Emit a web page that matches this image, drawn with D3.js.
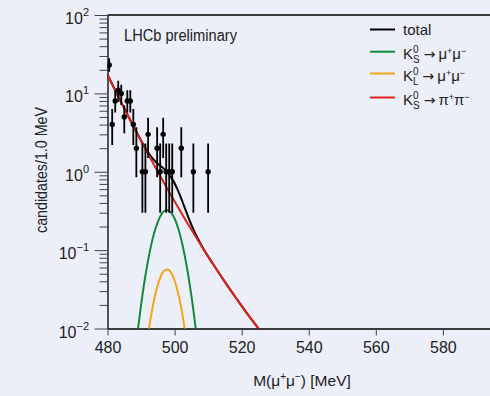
<!DOCTYPE html>
<html>
<head>
<meta charset="utf-8">
<script src="https://cdn.jsdelivr.net/npm/d3@7"></script>
<style>
  body { margin: 0; background: #eceef8; overflow: hidden; }
  svg { display: block; font-family: "Liberation Sans", Arial, sans-serif; }
</style>
</head>
<body>
<svg id="chart" width="490" height="396"></svg>
<script>
// binned data (candidates per bin)
const binMass = [480.5, 481.4, 482.3, 483.2, 484.1, 485.0, 485.9, 486.8, 487.7, 488.6,
  490.4, 491.3, 492.1, 494.8, 495.7, 496.6, 497.5, 498.4, 499.3, 502.0, 505.6, 510.0];
const counts = [23, 4, 8, 11, 10, 5, 8, 8, 4, 2, 1, 1, 3, 2, 1, 3, 1, 1, 1, 2, 1, 1];
const errLow = [18.9, 2.2, 5.7, 7.8, 7.1, 3.1, 5.7, 5.7, 2.2, 0.85, 0.3, 0.3, 1.5, 0.85, 0.3, 1.5, 0.3, 0.3, 0.3, 0.85, 0.3, 0.3];
const errHigh = [28.1, 6.3, 11.0, 14.5, 12.9, 7.0, 11.0, 11.0, 6.3, 3.7, 2.3, 2.3, 4.9, 3.7, 2.3, 4.9, 2.3, 2.3, 2.3, 3.7, 2.3, 2.3];

// fit components on a 1 MeV grid
const curveMass = d3.range(480, 527);
const pipiBkg = [17.4, 14.2, 11.6, 9.53, 7.83, 6.44, 5.31, 4.38, 3.62, 3.00,
  2.49, 2.07, 1.72, 1.43, 1.196, 1.00, 0.837, 0.703, 0.590, 0.497,
  0.419, 0.354, 0.299, 0.253, 0.215, 0.183, 0.156, 0.133, 0.113, 0.097,
  0.0831, 0.0713, 0.0613, 0.0528, 0.0455, 0.0393, 0.0340, 0.0295, 0.0256, 0.0223,
  0.0194, 0.0169, 0.0148, 0.0130, 0.0114, 0.0100, 0.0088];
const ksMass = d3.range(488, 509);
const ksMuMu = [0.0039, 0.0092, 0.0199, 0.0392, 0.0703, 0.115, 0.170, 0.230, 0.283, 0.317,
  0.323, 0.299, 0.253, 0.194, 0.136, 0.0864, 0.0501, 0.0264, 0.0127, 0.0055, 0.0022];
const klMass = d3.range(491, 506);
const klMuMu = [0.0036, 0.0077, 0.0146, 0.0245, 0.0362, 0.0475, 0.055, 0.0564, 0.0511, 0.041,
  0.0291, 0.0182, 0.0101, 0.0050, 0.0022];

const xTicks = [480, 500, 520, 540, 560, 580];
const yDecades = [-2, -1, 0, 1, 2];

const svg = d3.select('#chart');
const plotLeft = 107.5, plotTop = 15, plotBottom = 328.5;

const x = d3.scaleLinear().domain([480, 600]).range([plotLeft, plotLeft + 120 * 3.354]);
const y = d3.scaleLog().domain([0.01, 100]).range([plotBottom, plotTop]);

svg.append('defs').append('clipPath').attr('id', 'plotClip')
  .append('rect').attr('x', plotLeft).attr('y', plotTop)
  .attr('width', 490 - plotLeft).attr('height', plotBottom - plotTop);

// frame top
svg.append('line').attr('x1', plotLeft).attr('x2', 490).attr('y1', plotTop).attr('y2', plotTop)
  .attr('stroke', '#000').attr('stroke-width', 1.3);

// x axis
const xAxis = svg.append('g').attr('transform', `translate(0,${plotBottom})`)
  .call(d3.axisBottom(x).tickValues(xTicks).tickSize(7).tickSizeOuter(0).tickPadding(6));
xAxis.select('.domain').attr('stroke-width', 1.3);
xAxis.selectAll('.tick line').attr('stroke', '#444');
xAxis.selectAll('.tick text').attr('font-size', 16).attr('font-family', null).attr('fill', '#222');

// y axis: minor then major ticks
const minorVals = [];
yDecades.slice(0, -1).forEach(e => { for (let k = 2; k <= 9; k++) minorVals.push(k * Math.pow(10, e)); });
const yMinor = svg.append('g').attr('transform', `translate(${plotLeft},0)`)
  .call(d3.axisLeft(y).tickValues(minorVals).tickSize(8).tickSizeOuter(0).tickFormat(''));
yMinor.select('.domain').remove();
yMinor.selectAll('.tick line').attr('stroke', '#444');

const yAxis = svg.append('g').attr('transform', `translate(${plotLeft},0)`)
  .call(d3.axisLeft(y).tickValues(yDecades.map(e => Math.pow(10, e))).tickSize(13).tickSizeOuter(0).tickFormat(''));
yAxis.select('.domain').attr('stroke-width', 1.3);
yAxis.selectAll('.tick line').attr('stroke', '#444');

yDecades.forEach(e => {
  const t = svg.append('text').attr('x', 89).attr('y', y(Math.pow(10, e)) + 9)
    .attr('text-anchor', 'end').attr('font-size', 16).attr('fill', '#222');
  t.append('tspan').text('10');
  t.append('tspan').attr('dy', -8).attr('font-size', 11).text(e < 0 ? '\u2212' + (-e) : String(e));
});

// axis titles
const xt = svg.append('text').attr('x', 302).attr('y', 386).attr('text-anchor', 'middle')
  .attr('font-size', 15.5).attr('fill', '#222');
xt.append('tspan').text('M(\u03bc');
xt.append('tspan').attr('dy', -6).attr('font-size', 10).text('+');
xt.append('tspan').attr('dy', 6).text('\u03bc');
xt.append('tspan').attr('dy', -6).attr('font-size', 10).text('\u2212');
xt.append('tspan').attr('dy', 6).text(') [MeV]');

svg.append('text').attr('transform', 'translate(46.5,170) rotate(-90)')
  .attr('text-anchor', 'middle').attr('font-size', 16).attr('fill', '#222')
  .attr('textLength', 126).attr('lengthAdjust', 'spacingAndGlyphs')
  .text('candidates/1.0 MeV');

svg.append('text').attr('x', 124).attr('y', 41).attr('font-size', 16).attr('fill', '#222')
  .attr('textLength', 113).attr('lengthAdjust', 'spacingAndGlyphs')
  .text('LHCb preliminary');

// curves
const ksAt = m => { const i = ksMass.indexOf(m); return i < 0 ? 0 : ksMuMu[i]; };
const klAt = m => { const i = klMass.indexOf(m); return i < 0 ? 0 : klMuMu[i]; };
const total = curveMass.map((m, i) => pipiBkg[i] + ksAt(m) + klAt(m));

const line = d3.line().x(d => x(d[0])).y(d => y(d[1])).curve(d3.curveMonotoneX);
const plot = svg.append('g').attr('clip-path', 'url(#plotClip)');

const series = [
  { pts: d3.zip(ksMass, ksMuMu), color: '#13893b' },
  { pts: d3.zip(klMass, klMuMu), color: '#f5a516' },
  { pts: d3.zip(curveMass, total), color: '#000' },
  { pts: d3.zip(curveMass, pipiBkg), color: '#e3211c' }
];
series.forEach(s => {
  plot.append('path').attr('d', line(s.pts)).attr('fill', 'none')
    .attr('stroke', s.color).attr('stroke-width', 2);
});

// data points
const pts = plot.append('g');
binMass.forEach((m, i) => {
  pts.append('line').attr('x1', x(m)).attr('x2', x(m))
    .attr('y1', y(errHigh[i])).attr('y2', y(errLow[i]))
    .attr('stroke', '#000').attr('stroke-width', 1.8);
  pts.append('circle').attr('cx', x(m)).attr('cy', y(counts[i])).attr('r', 2.7).attr('fill', '#000');
});

// legend
const legend = [
  { color: '#000', label: 'total' },
  { color: '#13893b', sub: 'S', fin: '\u03bc' },
  { color: '#f5a516', sub: 'L', fin: '\u03bc' },
  { color: '#e3211c', sub: 'S', fin: '\u03c0' }
];
const legY = [29.5, 51.7, 73.5, 97.5];
legend.forEach((d, i) => {
  svg.append('line').attr('x1', 370).attr('x2', 395).attr('y1', legY[i]).attr('y2', legY[i])
    .attr('stroke', d.color).attr('stroke-width', 2);
  const t = svg.append('text').attr('x', 403).attr('font-size', 15).attr('fill', '#222');
  if (d.label) {
    t.attr('y', legY[i] + 5.5).text(d.label);
  } else {
    t.attr('y', legY[i] + 7.5);
    t.append('tspan').text('K');
    t.append('tspan').attr('dy', -6.5).attr('font-size', 10).text('0');
    t.append('tspan').attr('dx', -5.6).attr('dy', 10.5).attr('font-size', 10).text(d.sub);
    t.append('tspan').attr('dy', -4).attr('dx', 4)
      .attr('font-family', '"DejaVu Sans", sans-serif').attr('font-size', 14).text('\u2192');
    t.append('tspan').attr('dx', 3).text(d.fin);
    t.append('tspan').attr('dy', -5).attr('font-size', 9).text('+');
    t.append('tspan').attr('dy', 5).text(d.fin);
    t.append('tspan').attr('dy', -5).attr('font-size', 9).text('\u2212');
  }
});
</script>
</body>
</html>
